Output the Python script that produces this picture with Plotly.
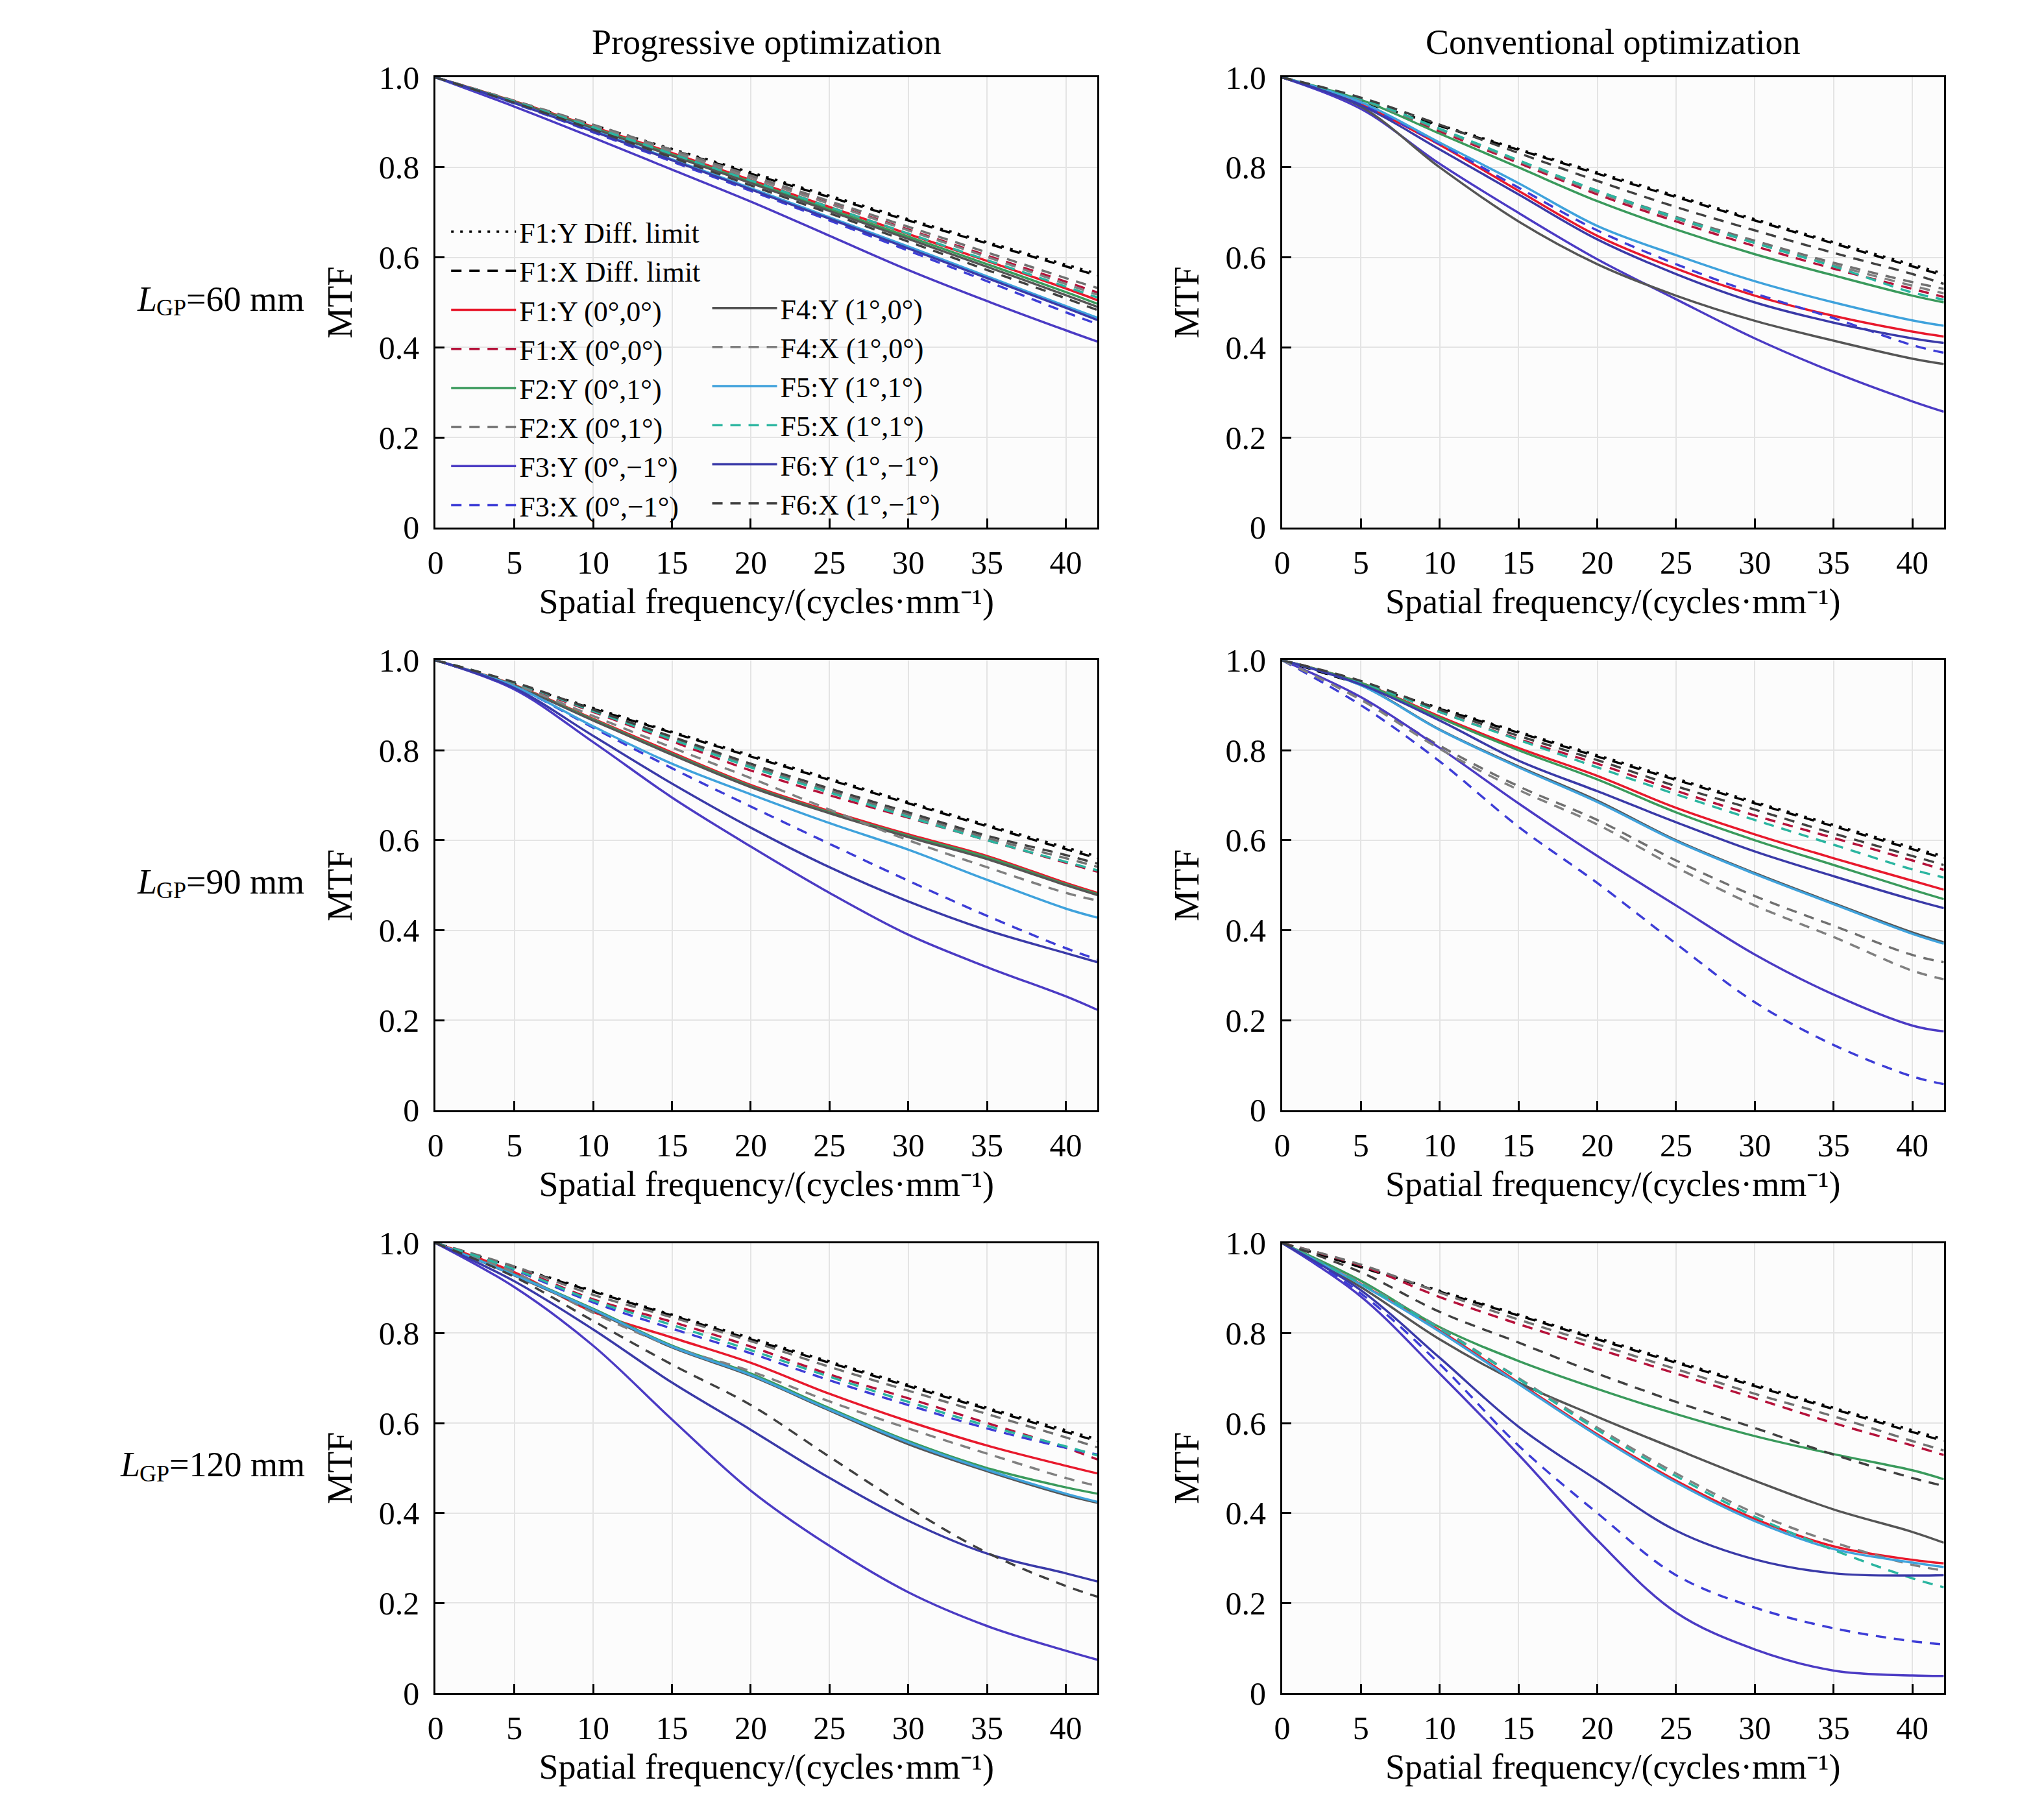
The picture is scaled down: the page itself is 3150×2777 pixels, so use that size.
import plotly.graph_objects as go

# spatial frequency samples (cycles/mm)
freq = [0, 5, 10, 15, 20, 25, 30, 35, 40, 42]

# diffraction limit (same in every panel)
diff_y = [1, 0.947, 0.894, 0.841, 0.789, 0.737, 0.685, 0.634, 0.584, 0.564]
diff_x = [1, 0.946, 0.892, 0.839, 0.786, 0.734, 0.682, 0.631, 0.580, 0.560]

# MTF curves per panel, order: F1:Y, F1:X, F2:Y, F2:X, F3:Y, F3:X, F4:Y, F4:X, F5:Y, F5:X, F6:Y, F6:X
prog_60 = [
    [1, 0.947, 0.890, 0.832, 0.772, 0.712, 0.652, 0.592, 0.531, 0.505],
    [1, 0.948, 0.893, 0.836, 0.778, 0.720, 0.662, 0.604, 0.546, 0.522],
    [1, 0.946, 0.888, 0.829, 0.768, 0.707, 0.646, 0.585, 0.523, 0.497],
    [1, 0.948, 0.895, 0.839, 0.782, 0.725, 0.668, 0.611, 0.554, 0.532],
    [1, 0.935, 0.866, 0.795, 0.724, 0.648, 0.572, 0.503, 0.438, 0.413],
    [1, 0.942, 0.878, 0.813, 0.748, 0.682, 0.615, 0.547, 0.478, 0.452],
    [1, 0.945, 0.886, 0.826, 0.765, 0.703, 0.641, 0.579, 0.516, 0.490],
    [1, 0.947, 0.892, 0.835, 0.777, 0.719, 0.660, 0.601, 0.541, 0.517],
    [1, 0.943, 0.882, 0.818, 0.754, 0.689, 0.624, 0.558, 0.492, 0.466],
    [1, 0.946, 0.889, 0.830, 0.771, 0.712, 0.653, 0.594, 0.535, 0.511],
    [1, 0.943, 0.880, 0.816, 0.751, 0.686, 0.620, 0.554, 0.488, 0.461],
    [1, 0.944, 0.884, 0.822, 0.760, 0.698, 0.635, 0.572, 0.509, 0.483],
]
conv_60 = [
    [1, 0.940, 0.850, 0.748, 0.648, 0.575, 0.515, 0.470, 0.435, 0.424],
    [1, 0.950, 0.880, 0.810, 0.740, 0.680, 0.625, 0.575, 0.530, 0.512],
    [1, 0.950, 0.875, 0.800, 0.725, 0.662, 0.607, 0.560, 0.515, 0.500],
    [1, 0.952, 0.885, 0.815, 0.748, 0.690, 0.637, 0.588, 0.545, 0.530],
    [1, 0.930, 0.808, 0.699, 0.596, 0.507, 0.420, 0.345, 0.280, 0.257],
    [1, 0.940, 0.852, 0.755, 0.660, 0.585, 0.520, 0.465, 0.405, 0.388],
    [1, 0.935, 0.800, 0.680, 0.585, 0.515, 0.459, 0.415, 0.375, 0.363],
    [1, 0.951, 0.884, 0.814, 0.745, 0.686, 0.632, 0.583, 0.537, 0.520],
    [1, 0.945, 0.855, 0.765, 0.670, 0.605, 0.547, 0.500, 0.460, 0.448],
    [1, 0.952, 0.886, 0.816, 0.748, 0.688, 0.632, 0.580, 0.522, 0.506],
    [1, 0.938, 0.840, 0.740, 0.640, 0.563, 0.500, 0.455, 0.420, 0.410],
    [1, 0.955, 0.895, 0.832, 0.770, 0.712, 0.660, 0.610, 0.563, 0.541],
]
prog_90 = [
    [1, 0.945, 0.870, 0.795, 0.723, 0.665, 0.613, 0.565, 0.505, 0.483],
    [1, 0.948, 0.885, 0.820, 0.755, 0.700, 0.650, 0.600, 0.550, 0.530],
    [1, 0.944, 0.868, 0.792, 0.720, 0.662, 0.610, 0.562, 0.502, 0.480],
    [1, 0.950, 0.888, 0.826, 0.765, 0.710, 0.657, 0.605, 0.560, 0.541],
    [1, 0.935, 0.818, 0.695, 0.586, 0.483, 0.390, 0.318, 0.253, 0.223],
    [1, 0.942, 0.850, 0.760, 0.675, 0.592, 0.510, 0.432, 0.360, 0.335],
    [1, 0.943, 0.866, 0.790, 0.718, 0.660, 0.607, 0.558, 0.500, 0.478],
    [1, 0.946, 0.876, 0.806, 0.738, 0.668, 0.600, 0.540, 0.483, 0.466],
    [1, 0.942, 0.853, 0.770, 0.702, 0.638, 0.579, 0.512, 0.448, 0.428],
    [1, 0.950, 0.887, 0.824, 0.762, 0.706, 0.652, 0.600, 0.552, 0.533],
    [1, 0.938, 0.832, 0.726, 0.628, 0.540, 0.464, 0.400, 0.349, 0.329],
    [1, 0.951, 0.890, 0.830, 0.770, 0.715, 0.662, 0.610, 0.567, 0.548],
]
conv_90 = [
    [1, 0.950, 0.875, 0.805, 0.743, 0.672, 0.613, 0.560, 0.510, 0.490],
    [1, 0.952, 0.885, 0.825, 0.770, 0.710, 0.655, 0.605, 0.555, 0.534],
    [1, 0.950, 0.872, 0.800, 0.735, 0.662, 0.600, 0.545, 0.490, 0.469],
    [1, 0.915, 0.810, 0.720, 0.645, 0.555, 0.476, 0.410, 0.345, 0.329],
    [1, 0.918, 0.805, 0.682, 0.565, 0.455, 0.346, 0.257, 0.188, 0.175],
    [1, 0.900, 0.775, 0.630, 0.505, 0.370, 0.240, 0.145, 0.075, 0.058],
    [1, 0.945, 0.846, 0.764, 0.688, 0.600, 0.527, 0.460, 0.395, 0.373],
    [1, 0.912, 0.803, 0.712, 0.635, 0.540, 0.455, 0.385, 0.310, 0.291],
    [1, 0.944, 0.845, 0.762, 0.685, 0.598, 0.525, 0.458, 0.392, 0.370],
    [1, 0.951, 0.885, 0.823, 0.762, 0.702, 0.645, 0.590, 0.535, 0.517],
    [1, 0.946, 0.866, 0.777, 0.709, 0.640, 0.575, 0.520, 0.468, 0.449],
    [1, 0.954, 0.890, 0.832, 0.778, 0.720, 0.668, 0.615, 0.565, 0.545],
]
prog_120 = [
    [1, 0.935, 0.847, 0.790, 0.734, 0.665, 0.604, 0.550, 0.505, 0.488],
    [1, 0.945, 0.875, 0.825, 0.770, 0.708, 0.655, 0.600, 0.545, 0.519],
    [1, 0.930, 0.854, 0.772, 0.710, 0.633, 0.560, 0.500, 0.457, 0.443],
    [1, 0.948, 0.885, 0.835, 0.782, 0.725, 0.672, 0.620, 0.568, 0.546],
    [1, 0.902, 0.772, 0.608, 0.450, 0.327, 0.224, 0.149, 0.094, 0.074],
    [1, 0.940, 0.868, 0.810, 0.755, 0.695, 0.640, 0.588, 0.545, 0.530],
    [1, 0.928, 0.850, 0.768, 0.705, 0.628, 0.553, 0.493, 0.440, 0.423],
    [1, 0.935, 0.845, 0.770, 0.715, 0.648, 0.588, 0.532, 0.478, 0.460],
    [1, 0.929, 0.852, 0.770, 0.707, 0.630, 0.557, 0.496, 0.443, 0.425],
    [1, 0.942, 0.872, 0.818, 0.762, 0.703, 0.647, 0.594, 0.548, 0.528],
    [1, 0.915, 0.808, 0.690, 0.585, 0.478, 0.383, 0.310, 0.266, 0.248],
    [1, 0.925, 0.827, 0.730, 0.640, 0.525, 0.412, 0.312, 0.238, 0.214],
]
conv_120 = [
    [1, 0.909, 0.806, 0.690, 0.575, 0.472, 0.387, 0.326, 0.296, 0.288],
    [1, 0.950, 0.880, 0.820, 0.765, 0.710, 0.655, 0.600, 0.550, 0.529],
    [1, 0.916, 0.813, 0.738, 0.676, 0.620, 0.571, 0.531, 0.495, 0.475],
    [1, 0.952, 0.890, 0.830, 0.775, 0.720, 0.665, 0.615, 0.560, 0.539],
    [1, 0.881, 0.710, 0.530, 0.340, 0.179, 0.097, 0.050, 0.039, 0.038],
    [1, 0.888, 0.731, 0.550, 0.400, 0.262, 0.190, 0.144, 0.115, 0.108],
    [1, 0.902, 0.786, 0.690, 0.614, 0.542, 0.472, 0.408, 0.358, 0.334],
    [1, 0.912, 0.812, 0.700, 0.590, 0.488, 0.400, 0.335, 0.285, 0.272],
    [1, 0.908, 0.803, 0.687, 0.572, 0.468, 0.382, 0.320, 0.290, 0.280],
    [1, 0.910, 0.810, 0.698, 0.585, 0.482, 0.392, 0.318, 0.255, 0.235],
    [1, 0.895, 0.745, 0.592, 0.473, 0.361, 0.297, 0.266, 0.261, 0.262],
    [1, 0.935, 0.847, 0.779, 0.710, 0.647, 0.589, 0.530, 0.478, 0.460],
]

panels = [prog_60, conv_60, prog_90, conv_90, prog_120, conv_120]

names = ["F1:Y (0°,0°)", "F1:X (0°,0°)", "F2:Y (0°,1°)", "F2:X (0°,1°)",
         "F3:Y (0°,−1°)", "F3:X (0°,−1°)", "F4:Y (1°,0°)", "F4:X (1°,0°)",
         "F5:Y (1°,1°)", "F5:X (1°,1°)", "F6:Y (1°,−1°)", "F6:X (1°,−1°)"]
colors = ["#e8192c", "#b5123a", "#3a9a5c", "#707070",
          "#4b3bc4", "#3d3dd6", "#555555", "#808080",
          "#3fa2dc", "#2bb5a0", "#3a3aa8", "#404040"]

row_lengths = ["=60 mm", "=90 mm", "=120 mm"]
col_titles = ["Progressive optimization", "Conventional optimization"]
x_title = "Spatial frequency/(cycles·mm⁻¹)"

FONT = "Liberation Serif"
W, H = 3150, 2777
x_dom = [(653 / W, 1677 / W), (1963 / W, 2987 / W)]
y_dom = [(1 - 793 / H, 1 - 85 / H), (1 - 1710 / H, 1 - 1002 / H), (1 - 2627 / H, 1 - 1919 / H)]

DASH = "16px,12px"
fig = go.Figure()

for k, curves in enumerate(panels):
    ax = "" if k == 0 else str(k + 1)
    first = k == 0
    fig.add_trace(go.Scatter(x=freq, y=diff_y, mode="lines", line_shape="spline",
                             name="F1:Y Diff. limit", legend="legend", showlegend=first,
                             line=dict(color="black", width=3.5, dash="4px,10px"),
                             xaxis="x" + ax, yaxis="y" + ax))
    fig.add_trace(go.Scatter(x=freq, y=diff_x, mode="lines", line_shape="spline",
                             name="F1:X Diff. limit", legend="legend", showlegend=first,
                             line=dict(color="black", width=3.5, dash=DASH),
                             xaxis="x" + ax, yaxis="y" + ax))
    for i, vals in enumerate(curves):
        dashed = i % 2 == 1
        fig.add_trace(go.Scatter(
            x=freq, y=vals, mode="lines", line_shape="spline", name=names[i],
            legend="legend" if i < 6 else "legend2", showlegend=first,
            line=dict(color=colors[i], width=3.5, dash=DASH if dashed else "solid"),
            xaxis="x" + ax, yaxis="y" + ax))

tick_font = dict(family=FONT, size=50, color="black")
title_font = dict(family=FONT, size=54, color="black")
leg_font = dict(family=FONT, size=44, color="black")
layout = dict(
    width=W, height=H,
    margin=dict(l=0, r=0, t=0, b=0),
    paper_bgcolor="white", plot_bgcolor="#fcfcfc",
    font=dict(family=FONT, size=50, color="black"),
    legend=dict(x=672 / W, y=1 - 292 / H, xanchor="left", yanchor="top",
                bgcolor="rgba(0,0,0,0)", font=leg_font,
                itemwidth=100, tracegroupgap=0, traceorder="normal"),
    legend2=dict(x=1076 / W, y=1 - 412 / H, xanchor="left", yanchor="top",
                 bgcolor="rgba(0,0,0,0)", font=leg_font,
                 itemwidth=100, tracegroupgap=0, traceorder="normal"),
)

for k in range(6):
    r, c = divmod(k, 2)
    ax = "" if k == 0 else str(k + 1)
    layout["xaxis" + ax] = dict(
        domain=x_dom[c], anchor="y" + ax, range=[0, 42],
        tickvals=[0, 5, 10, 15, 20, 25, 30, 35, 40], tickfont=tick_font,
        ticks="inside", ticklen=14, tickwidth=3, tickcolor="black", ticklabelstandoff=8,
        showline=True, linecolor="black", linewidth=3, mirror=True,
        showgrid=True, gridcolor="#e4e4e4", gridwidth=2, zeroline=False,
        title=dict(text=x_title, font=title_font, standoff=14),
    )
    layout["yaxis" + ax] = dict(
        domain=y_dom[r], anchor="x" + ax, range=[0, 1.0],
        tickvals=[0, 0.2, 0.4, 0.6, 0.8, 1.0], ticktext=["0", "0.2", "0.4", "0.6", "0.8", "1.0"],
        tickfont=tick_font, ticks="inside", ticklen=14, tickwidth=3, tickcolor="black",
        ticklabelstandoff=12,
        showline=True, linecolor="black", linewidth=3, mirror=True,
        showgrid=True, gridcolor="#e4e4e4", gridwidth=2, zeroline=False,
        title=dict(text="MTF", font=title_font, standoff=24),
    )

annotations = []
for c, t in enumerate(col_titles):
    annotations.append(dict(text=t, x=(x_dom[c][0] + x_dom[c][1]) / 2, y=1 - 30 / H,
                            xref="paper", yref="paper", xanchor="center", yanchor="middle",
                            showarrow=False, font=title_font))
# row labels: italic L, subscript GP, then the length
for r, t in enumerate(row_lengths):
    yc = (y_dom[r][0] + y_dom[r][1]) / 2 + 0.002
    x0 = 189 if r < 2 else 163
    annotations.append(dict(text="L", x=x0 / W, y=yc, xref="paper", yref="paper",
                            xanchor="left", yanchor="middle", showarrow=False,
                            font=dict(family=FONT, size=54, color="black", style="italic")))
    annotations.append(dict(text="GP", x=(x0 + 30) / W, y=yc - 14 / H, xref="paper", yref="paper",
                            xanchor="left", yanchor="middle", showarrow=False,
                            font=dict(family=FONT, size=36, color="black")))
    annotations.append(dict(text=t, x=(x0 + 76) / W, y=yc, xref="paper", yref="paper",
                            xanchor="left", yanchor="middle", showarrow=False,
                            font=dict(family=FONT, size=54, color="black")))
layout["annotations"] = annotations

fig.update_layout(**layout)
fig.write_html("out.html")
